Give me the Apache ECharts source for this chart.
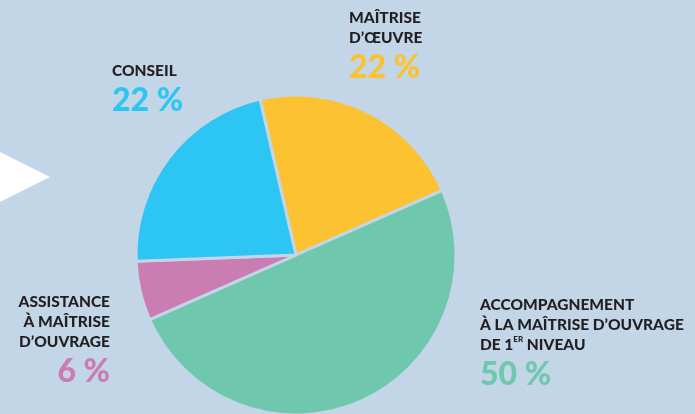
<!DOCTYPE html>
<html>
<head>
<meta charset="utf-8">
<script src="https://cdn.jsdelivr.net/npm/echarts@6/dist/echarts.min.js"></script>
<style>
  html, body { margin: 0; padding: 0; background: #c3d6e7; }
  #main { width: 695px; height: 414px; }
</style>
</head>
<body>
<div id="main"></div>
<script>
// categories, clockwise from the top
const categories = [
  "MAÎTRISE\nD’ŒUVRE",
  "ACCOMPAGNEMENT\nÀ LA MAÎTRISE D’OUVRAGE\nDE 1{sup|ER} NIVEAU",
  "ASSISTANCE\nÀ MAÎTRISE\nD’OUVRAGE",
  "CONSEIL",
];
const shares = [22, 50, 6, 22];
const colors = ["#fdc232", "#6fc7ad", "#c97db3", "#2dc5f4"];

// where each label block sits
const labelPos = [
  { x: 349, y: 8, align: "left" },
  { x: 480, y: 295, align: "left" },
  { x: 110, y: 292, align: "right" },
  { x: 112, y: 61, align: "left" },
];

const bg = "#c3d6e7";
let chartDom = document.getElementById("main");
let myChart = echarts.init(chartDom);

let rich = {
  n: { fontFamily: "Lato", fontWeight: 900, fontSize: 15.5, color: "#231f20", lineHeight: 20 },
  sup: { fontFamily: "Lato", fontWeight: 900, fontSize: 8, color: "#231f20", lineHeight: 20, verticalAlign: "top", padding: [0, 0, 6, 0] },
};
colors.forEach((c, i) => {
  rich["v" + i] = { fontFamily: "Lato", fontWeight: 900, fontSize: 32, color: c, lineHeight: 40 };
});

let option = {
  backgroundColor: bg,
  graphic: [
    {
      type: "polygon",
      shape: { points: [[-10, 147], [50, 177], [-10, 207]] },
      style: { fill: "#ffffff" },
    },
  ],
  series: [
    {
      type: "pie",
      center: [296, 255],
      radius: 160,
      startAngle: 103,
      clockwise: true,
      silent: true,
      itemStyle: { borderColor: bg, borderWidth: 3 },
      label: {
        show: true,
        position: "outside",
        overflow: "none",
        rich: rich,
        formatter: function (p) {
          let lines = p.name.split("\n").map((l) => "{n|" + l.replace("{sup|ER}", "}{sup|ER}{n|") + "}");
          return lines.join("\n") + "\n{v" + p.dataIndex + "|" + p.value + " %}";
        },
      },
      labelLine: { show: false },
      labelLayout: function (params) {
        let pos = labelPos[params.dataIndex];
        return { x: pos.x, y: pos.y, align: pos.align, verticalAlign: "top" };
      },
      data: categories.map((name, i) => ({
        name: name,
        value: shares[i],
        itemStyle: { color: colors[i] },
        label: { align: labelPos[i].align },
      })),
    },
  ],
};

option && myChart.setOption(option);
</script>
</body>
</html>
